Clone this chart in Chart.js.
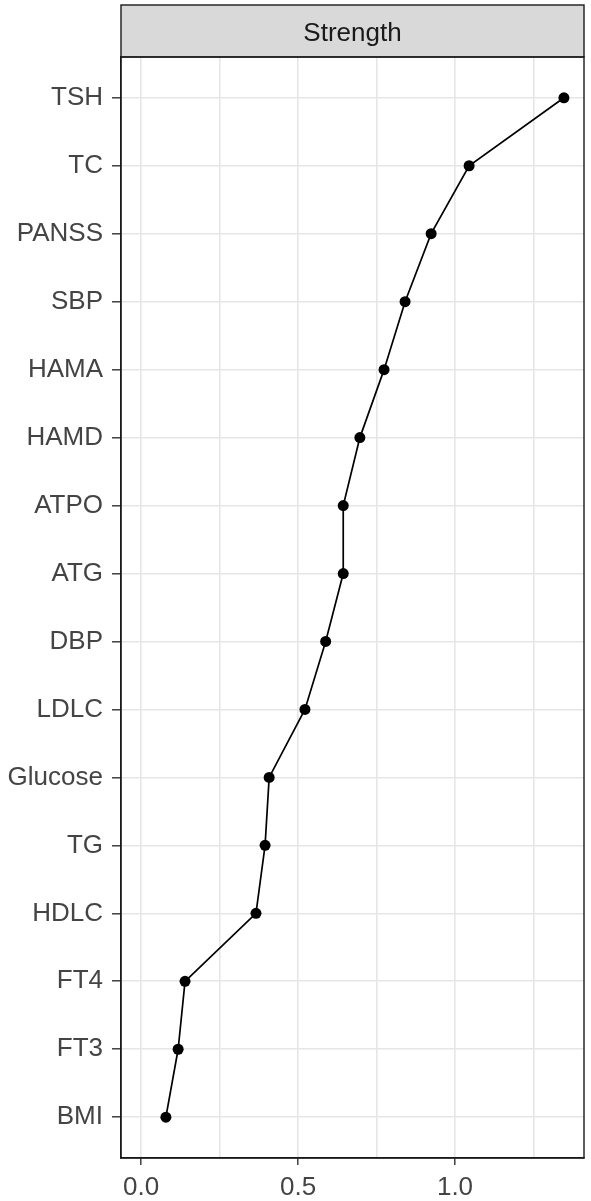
<!DOCTYPE html>
<html>
<head>
<meta charset="utf-8">
<script src="https://cdn.jsdelivr.net/npm/chart.js@4/dist/chart.umd.min.js"></script>
<style>
  html, body { margin:0; padding:0; background:#fff; }
  #wrap { width:591px; height:1201px; }
</style>
</head>
<body>
<div id="wrap"><canvas id="strength"></canvas></div>
<script>
// categories top to bottom
var categories = ['TSH', 'TC', 'PANSS', 'SBP', 'HAMA', 'HAMD', 'ATPO', 'ATG', 'DBP', 'LDLC', 'Glucose', 'TG', 'HDLC', 'FT4', 'FT3', 'BMI'];
var strength = [1.347, 1.045, 0.924, 0.841, 0.774, 0.697, 0.644, 0.644, 0.588, 0.522, 0.408, 0.395, 0.366, 0.140, 0.118, 0.079];
var xMajor = [0, 0.5, 1.0];
var xMinor = [0.25, 0.75, 1.25];
var panelTitle = 'Strength';

var FONT = "'Liberation Sans', Arial, sans-serif";

var stripPlugin = {
    id:'strip',
    afterDraw:function(chart){
        var a = chart.chartArea, c = chart.ctx;
        c.save();
        // strip
        c.fillStyle = '#d9d9d9';
        c.fillRect(a.left, 5, a.right - a.left, a.top - 5);
        c.strokeStyle = '#1a1a1a';
        c.lineWidth = 1.4;
        c.strokeRect(a.left, 5, a.right - a.left, a.top - 5);
        // panel border
        c.strokeRect(a.left, a.top, a.right - a.left, a.bottom - a.top);
        c.fillStyle = '#1a1a1a';
        c.font = '26px ' + FONT;
        c.textAlign = 'center';
        c.textBaseline = 'middle';
        c.fillText(panelTitle, (a.left + a.right) / 2, (5 + a.top) / 2 + 3);
        c.restore();
    }
};

var chart = new Chart(document.getElementById('strength'), {
    type:'scatter',
    data:{
        datasets:[{
            label:panelTitle,
            data:strength.map(function(v, i){ return {x:v, y:i}; }),
            showLine:true,
            borderColor:'#000',
            backgroundColor:'#000',
            borderWidth:1.7,
            pointRadius:5.5,
            pointBorderWidth:0,
            pointHoverRadius:5.5
        }]
    },
    options:{
        responsive:true,
        maintainAspectRatio:false,
        animation:false,
        layout:{padding:{top:57, right:7, left:0, bottom:0}},
        plugins:{legend:{display:false}, tooltip:{enabled:false}},
        scales:{
            x:{
                type:'linear',
                min:-0.064,
                max:1.411,
                afterBuildTicks:function(s){
                    s.ticks = xMajor.concat(xMinor).sort().map(function(v){ return {value:v}; });
                },
                afterFit:function(s){ s.height = 43; },
                ticks:{
                    autoSkip:false,
                    maxRotation:0,
                    padding:7,
                    color:'#444',
                    font:{family:FONT, size:26},
                    callback:function(v){ return xMajor.indexOf(v) >= 0 ? v.toFixed(1) : ''; }
                },
                grid:{
                    color:'#e6e6e6',
                    lineWidth:1.6,
                    tickLength:7,
                    tickWidth:1.4,
                    tickColor:function(ctx){
                        return ctx.tick && xMajor.indexOf(ctx.tick.value) >= 0 ? '#333' : 'rgba(0,0,0,0)';
                    }
                },
                border:{color:'#1a1a1a', width:1.4}
            },
            y:{
                type:'linear',
                min:-0.6,
                max:categories.length - 0.4,
                reverse:true,
                afterBuildTicks:function(s){
                    s.ticks = categories.map(function(c, i){ return {value:i}; });
                },
                afterFit:function(s){ s.width = 121; },
                ticks:{
                    autoSkip:false,
                    padding:9,
                    color:'#444',
                    font:{family:FONT, size:26},
                    callback:function(v){ return categories[v]; }
                },
                grid:{
                    color:'#e6e6e6',
                    lineWidth:1.6,
                    tickLength:9,
                    tickWidth:1.4,
                    tickColor:'#333'
                },
                border:{color:'#1a1a1a', width:1.4}
            }
        }
    },
    plugins:[stripPlugin]
});
</script>
</body>
</html>
